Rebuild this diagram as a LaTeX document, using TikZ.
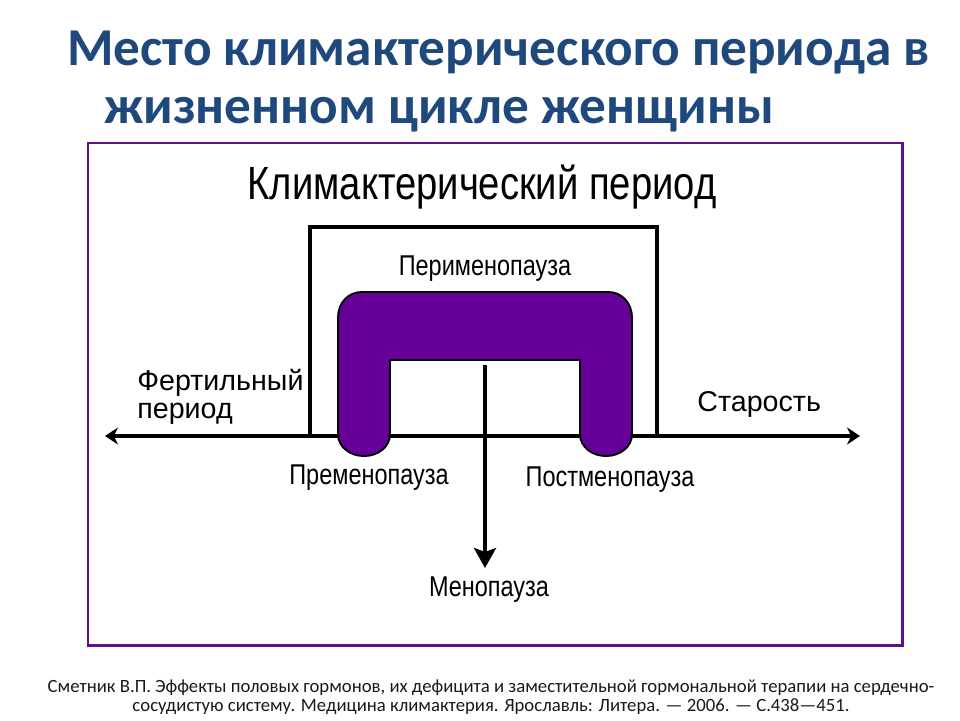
\documentclass[tikz,border=0pt]{standalone}
\usepackage{fontspec}
\usepackage{xcolor}
\setmainfont{Carlito}
\newfontfamily\narrowfont[FakeStretch=0.82]{Liberation Sans}
\newfontfamily\plainfont{Liberation Sans}
\usetikzlibrary{arrows.meta}

\definecolor{titleblue}{RGB}{31,73,125}
\definecolor{framepurple}{RGB}{96,16,140}
\definecolor{climpurple}{RGB}{102,0,153}

\begin{document}
\begin{tikzpicture}[x=0.02cm, y=-0.02cm,
    title/.style={anchor=base west, inner sep=0pt, text=titleblue, font=\fontsize{30.3}{36}\selectfont\bfseries},
    lbl/.style={anchor=base, inner sep=0pt, font=\narrowfont\fontsize{16.3}{19}\selectfont},
    wlbl/.style={anchor=base west, inner sep=0pt, align=left, font=\plainfont\fontsize{16.3}{15.9}\selectfont},
    thick line/.style={line width=2.8pt}]
      \useasboundingbox (0,0) rectangle (960,720);

      \node[title] (T1) at ( 67,  65) {Место климактерического периода в};
      \node[title] (T2) at (104, 123) {жизненном цикле женщины};

      \draw[framepurple, line width=1.7pt] (88,143) rectangle (902,645);

      \node[lbl, font=\narrowfont\fontsize{26.5}{30}\selectfont] (K) at (482, 199) {Климактерический период};
      \node[lbl]  (Peri) at (485, 275) {Перименопауза};
      \node[wlbl] (Fert) at (137, 418) {Фертильный\\период};
      \node[wlbl] (Star) at (697, 411) {Старость};
      \node[lbl]  (Pre)  at (369, 484) {Пременопауза};
      \node[lbl]  (Post) at (610, 486) {Постменопауза};
      \node[lbl]  (Meno) at (489, 596) {Менопауза};

      \coordinate (axL)  at (105, 436);
      \coordinate (axR)  at (860, 436);
      \coordinate (mtop) at (485, 365);
      \coordinate (mbot) at (485, 568);

      \draw[thick line] (310,436) -- (310,227) -- (657,227) -- (657,436);

      \draw[thick line, {Stealth[length=0.26cm, width=0.34cm]}-{Stealth[length=0.26cm, width=0.34cm]}] (axL) -- (axR);

      \draw[fill=climpurple, line width=1.1pt, line join=round]
        (364,456) .. controls (350,456) and (338,447) .. (338,434) -- (338,318)
        .. controls (338,303) and (348,292) .. (362,292) -- (608,292)
        .. controls (622,292) and (632,303) .. (632,318) -- (632,434)
        .. controls (632,447) and (620,456) .. (606,456)
        .. controls (592,456) and (580,447) .. (580,434) -- (580,360) -- (390,360) -- (390,434)
        .. controls (390,447) and (378,456) .. (364,456) -- cycle;

      \draw[thick line, -{Stealth[length=0.4cm, width=0.44cm, inset=0.08cm]}] (mtop) -- (mbot);

      \node[align=center, inner sep=0pt, text=black!90, font=\fontsize{10.65}{10.8}\selectfont] (Ref) at (491, 697)
        {Сметник В.П. Эффекты половых гормонов, их дефицита и заместительной гормональной терапии на сердечно-\\
         сосудистую систему. Медицина климактерия. Ярославль: Литера. — 2006. — С.438—451.};
\end{tikzpicture}
\end{document}
